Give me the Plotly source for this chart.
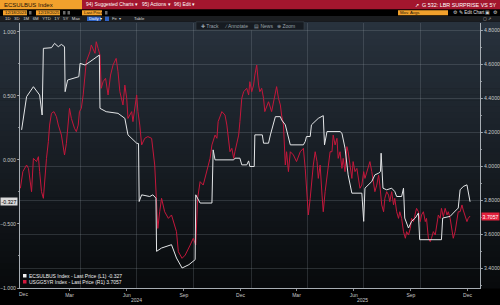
import plotly.graph_objects as go

# ---------------- data ----------------
ECSU_DATES = [
    "2023-12-29", "2023-12-31", "2024-01-06", "2024-01-17", "2024-01-27", "2024-01-31",
    "2024-02-02", "2024-02-15", "2024-02-20", "2024-02-26", "2024-03-02", "2024-03-07",
    "2024-03-08", "2024-03-12", "2024-03-21", "2024-03-30", "2024-04-01", "2024-04-09",
    "2024-04-17", "2024-05-02", "2024-05-03", "2024-05-13", "2024-06-01", "2024-06-12",
    "2024-06-17", "2024-07-01", "2024-07-04", "2024-07-05", "2024-07-09", "2024-07-22",
    "2024-07-27", "2024-08-01", "2024-08-02", "2024-08-10", "2024-08-26", "2024-09-03",
    "2024-09-12", "2024-09-23", "2024-10-03", "2024-10-04", "2024-10-11", "2024-10-30",
    "2024-11-01", "2024-11-04", "2024-12-04", "2024-12-06", "2024-12-14", "2024-12-17",
    "2024-12-25", "2024-12-28", "2024-12-30", "2025-01-06", "2025-01-07", "2025-01-19",
    "2025-01-21", "2025-01-29", "2025-02-01", "2025-02-06", "2025-02-09", "2025-02-17",
    "2025-02-19", "2025-02-25", "2025-03-02", "2025-03-05", "2025-03-26", "2025-03-29",
    "2025-03-31", "2025-04-06", "2025-04-08", "2025-04-14", "2025-04-19", "2025-04-27",
    "2025-04-29", "2025-05-03", "2025-05-24", "2025-05-27", "2025-06-01", "2025-06-06",
    "2025-06-12", "2025-06-28", "2025-07-01", "2025-07-03", "2025-07-09", "2025-07-14",
    "2025-07-19", "2025-07-25", "2025-07-28", "2025-07-29", "2025-08-01", "2025-08-07",
    "2025-08-15", "2025-08-20", "2025-08-23", "2025-08-31", "2025-09-03", "2025-09-05",
    "2025-09-11", "2025-09-16", "2025-09-22", "2025-09-27", "2025-09-29", "2025-11-03",
    "2025-11-05", "2025-11-17", "2025-11-22", "2025-11-30", "2025-12-03", "2025-12-08",
    "2025-12-14", "2025-12-19",
]
ECSU_VALUES = [
    0.234, 0.299, 0.493, 0.571, 0.506, 0.350,
    0.870, 0.875, 0.909, 0.883, 0.901, 0.883,
    0.532, 0.623, 0.636, 0.649, 0.753, 0.740,
    0.766, 0.818, 0.402, 0.376, 0.363, 0.324,
    0.195, 0.130, 0.127, -0.325, -0.273, -0.286,
    -0.273, -0.299, -0.714, -0.688, -0.662, -0.766,
    -0.844, -0.818, -0.779, -0.273, -0.337, -0.337,
    0.078, 0.000, 0.000, 0.013, 0.013, -0.039,
    -0.039, -0.008, -0.052, -0.052, 0.195, 0.195,
    0.130, 0.130, 0.195, 0.273, 0.337, 0.337,
    0.312, 0.273, 0.169, 0.117, 0.117, 0.143,
    0.182, 0.182, 0.273, 0.299, 0.324, 0.345,
    0.117, 0.221, 0.221, 0.208, 0.091, -0.117,
    -0.260, -0.260, -0.480, -0.221, -0.195, -0.169,
    -0.117, -0.104, -0.091, 0.052, -0.221, -0.234,
    -0.221, -0.247, -0.286, -0.286, -0.221, -0.454,
    -0.532, -0.480, -0.454, -0.415, -0.623, -0.623,
    -0.454, -0.441, -0.415, -0.376, -0.234, -0.208,
    -0.195, -0.327,
]

USGG_DATES = [
    "2023-12-27", "2023-12-31", "2024-01-06", "2024-01-09", "2024-01-14", "2024-01-17",
    "2024-01-22", "2024-01-25", "2024-01-27", "2024-01-30", "2024-02-02", "2024-02-04",
    "2024-02-07", "2024-02-10", "2024-02-12", "2024-02-15", "2024-02-19", "2024-02-23",
    "2024-02-26", "2024-03-02", "2024-03-07", "2024-03-10", "2024-03-15", "2024-03-18",
    "2024-03-23", "2024-03-26", "2024-03-29", "2024-03-31", "2024-04-03", "2024-04-06",
    "2024-04-09", "2024-04-11", "2024-04-17", "2024-04-19", "2024-04-25", "2024-04-27",
    "2024-04-30", "2024-05-03", "2024-05-05", "2024-05-08", "2024-05-12", "2024-05-16",
    "2024-05-20", "2024-05-24", "2024-05-29", "2024-06-01", "2024-06-04", "2024-06-09",
    "2024-06-12", "2024-06-15", "2024-06-17", "2024-06-23", "2024-06-25", "2024-07-01",
    "2024-07-03", "2024-07-06", "2024-07-09", "2024-07-14", "2024-07-19", "2024-07-25",
    "2024-07-30", "2024-08-02", "2024-08-04", "2024-08-07", "2024-08-10", "2024-08-15",
    "2024-08-21", "2024-08-26", "2024-08-31", "2024-09-03", "2024-09-06", "2024-09-12",
    "2024-09-17", "2024-09-20", "2024-09-25", "2024-09-30", "2024-10-04", "2024-10-07",
    "2024-10-11", "2024-10-16", "2024-10-22", "2024-10-27", "2024-10-30", "2024-11-04",
    "2024-11-07", "2024-11-09", "2024-11-15", "2024-11-20", "2024-11-23", "2024-11-26",
    "2024-11-28", "2024-12-01", "2024-12-04", "2024-12-06", "2024-12-12", "2024-12-14",
    "2024-12-17", "2024-12-20", "2024-12-25", "2024-12-28", "2024-12-30", "2025-01-02",
    "2025-01-05", "2025-01-07", "2025-01-10", "2025-01-13", "2025-01-15", "2025-01-18",
    "2025-01-21", "2025-01-23", "2025-01-29", "2025-02-03", "2025-02-09", "2025-02-11",
    "2025-02-14", "2025-02-17", "2025-02-19", "2025-02-22", "2025-02-25", "2025-02-27",
    "2025-03-02", "2025-03-05", "2025-03-10", "2025-03-15", "2025-03-21", "2025-03-26",
    "2025-03-29", "2025-03-31", "2025-04-03", "2025-04-06", "2025-04-08", "2025-04-11",
    "2025-04-14", "2025-04-17", "2025-04-19", "2025-04-22", "2025-04-25", "2025-04-27",
    "2025-04-30", "2025-05-03", "2025-05-08", "2025-05-11", "2025-05-13", "2025-05-16",
    "2025-05-19", "2025-05-21", "2025-05-24", "2025-05-27", "2025-05-29", "2025-06-01",
    "2025-06-04", "2025-06-06", "2025-06-09", "2025-06-12", "2025-06-14", "2025-06-17",
    "2025-06-20", "2025-06-23", "2025-06-25", "2025-06-28", "2025-07-01", "2025-07-03",
    "2025-07-06", "2025-07-09", "2025-07-11", "2025-07-14", "2025-07-17", "2025-07-19",
    "2025-07-22", "2025-07-25", "2025-07-27", "2025-07-30", "2025-08-02", "2025-08-04",
    "2025-08-07", "2025-08-10", "2025-08-12", "2025-08-15", "2025-08-18", "2025-08-20",
    "2025-08-23", "2025-08-26", "2025-08-28", "2025-08-31", "2025-09-03", "2025-09-06",
    "2025-09-08", "2025-09-11", "2025-09-14", "2025-09-16", "2025-09-19", "2025-09-22",
    "2025-09-24", "2025-09-27", "2025-09-30", "2025-10-02", "2025-10-05", "2025-10-08",
    "2025-10-10", "2025-10-13", "2025-10-16", "2025-10-18", "2025-10-21", "2025-10-24",
    "2025-10-26", "2025-10-29", "2025-11-01", "2025-11-03", "2025-11-06", "2025-11-09",
    "2025-11-12", "2025-11-14", "2025-11-17", "2025-11-20", "2025-11-22", "2025-11-25",
    "2025-11-28", "2025-11-30", "2025-12-03", "2025-12-06", "2025-12-08", "2025-12-11",
    "2025-12-14", "2025-12-16", "2025-12-19",
]
USGG_VALUES = [
    3.869, 3.967, 4.006, 3.986, 3.849, 4.045,
    4.026, 4.055, 3.967, 3.849, 3.810, 3.908,
    4.045, 4.143, 4.241, 4.310, 4.320, 4.290,
    4.241, 4.182, 4.065, 4.133, 4.339, 4.280,
    4.222, 4.202, 4.241, 4.320, 4.339, 4.418,
    4.535, 4.614, 4.673, 4.712, 4.663, 4.731,
    4.692, 4.653, 4.457, 4.496, 4.516, 4.418,
    4.535, 4.594, 4.633, 4.555, 4.437, 4.359,
    4.476, 4.398, 4.280, 4.320, 4.261, 4.418,
    4.320, 4.241, 4.124, 4.163, 4.173, 4.163,
    4.006, 3.810, 3.633, 3.731, 3.810, 3.731,
    3.692, 3.712, 3.653, 3.614, 3.496, 3.457,
    3.476, 3.496, 3.535, 3.575, 3.535, 3.810,
    3.908, 3.888, 3.967, 4.045, 4.124, 4.182,
    4.163, 4.261, 4.320, 4.300, 4.241, 4.163,
    4.084, 4.104, 4.045, 4.084, 4.182, 4.261,
    4.398, 4.437, 4.457, 4.418, 4.496, 4.437,
    4.476, 4.535, 4.594, 4.476, 4.437, 4.457,
    4.398, 4.320, 4.378, 4.320, 4.418, 4.467,
    4.398, 4.359, 4.300, 4.241, 4.006, 4.084,
    3.967, 4.084, 4.065, 4.026, 4.084, 4.104,
    3.986, 3.849, 3.712, 3.810, 3.908, 4.006,
    4.084, 4.026, 3.927, 4.006, 3.829, 3.731,
    3.849, 3.927, 4.084, 4.084, 4.182, 4.124,
    4.163, 4.045, 4.084, 3.986, 4.045, 3.967,
    4.114, 4.084, 4.006, 3.927, 4.026, 3.967,
    3.986, 3.927, 3.869, 3.888, 3.967, 3.927,
    3.967, 4.006, 4.026, 3.967, 3.908, 3.849,
    3.888, 3.947, 3.888, 3.771, 3.731, 3.810,
    3.849, 3.829, 3.790, 3.849, 3.771, 3.810,
    3.731, 3.692, 3.731, 3.692, 3.614, 3.575,
    3.614, 3.594, 3.633, 3.692, 3.673, 3.712,
    3.751, 3.731, 3.673, 3.712, 3.731, 3.673,
    3.692, 3.575, 3.555, 3.575, 3.614, 3.594,
    3.653, 3.712, 3.692, 3.751, 3.702, 3.751,
    3.712, 3.731, 3.692, 3.633, 3.575, 3.614,
    3.673, 3.731, 3.731, 3.771, 3.741, 3.712,
    3.673, 3.692, 3.7057,
]

LEFT_TICKS = [-1.0, -0.5, 0.0, 0.5, 1.0]
RIGHT_TICKS = [3.4, 3.6, 3.8, 4.0, 4.2, 4.4, 4.6, 4.8]
MONTH_TICKS = ["2024-03-15", "2024-06-15", "2024-09-15", "2024-12-15",
               "2025-03-15", "2025-06-15", "2025-09-15", "2025-12-15"]
MONTH_LABELS = ["Mar", "Jun", "Sep", "Dec", "Mar", "Jun", "Sep", "Dec"]
QUARTER_LINES = ["2024-04-01", "2024-07-01", "2024-10-01", "2025-01-01",
                 "2025-04-01", "2025-07-01", "2025-10-01"]
YEAR_LABELS = ["2024", "2025"]
YEAR_CENTERS = ["2024-07-01", "2025-06-29"]
X_RANGE = ["2023-12-26 10:00", "2026-01-04"]
LEFT_RANGE = [-1.0, 1.068]
RIGHT_RANGE = [3.2824, 4.8412]

LEFT_NAME = "ECSULBUS Index - Last Price (L1)"
RIGHT_NAME = "USGG5YR Index - Last Price (R1)"

# ---------------- layout geometry ----------------
W, H = 500, 305
PL, PR, PT, PB = 20, 480, 23, 288
FONT = "Liberation Sans, Arial, sans-serif"
GRID = "rgba(150,160,172,0.32)"
AXC = "#a7adb3"
TXT = "#c9c9c9"


def fx(p):
    return (p - PL) / (PR - PL)


def fy(p):
    return (PB - p) / (PB - PT)


shapes = []
annotations = []


def rect(x0, y0, x1, y1, fill, line=None, lw=0, layer="below"):
    shapes.append(dict(type="rect", xref="paper", yref="paper",
                       x0=fx(x0), x1=fx(x1), y0=fy(y1), y1=fy(y0),
                       fillcolor=fill, layer=layer,
                       line=dict(color=line or fill, width=lw)))


def text(x, y, s, size=5.2, color=TXT, anchor="left", bg=None, pad=0):
    annotations.append(dict(xref="paper", yref="paper", x=fx(x), y=fy(y),
                            text=s, showarrow=False, xanchor=anchor,
                            yanchor="middle", bgcolor=bg, borderpad=pad,
                            font=dict(family=FONT, size=size, color=color)))


# chart background gradient (styling only)
top_c = (40, 50, 61)
bot_c = (8, 10, 12)
y_start, y_end = 21.5, PB
n = 44
for i in range(n):
    t = i / (n - 1)
    c = tuple(int(round(top_c[k] + (bot_c[k] - top_c[k]) * t)) for k in range(3))
    ya = y_start + (y_end - y_start) * i / n
    yb = y_start + (y_end - y_start) * (i + 1) / n + 0.6
    rect(0, ya, W, yb, "rgb(%d,%d,%d)" % c)

# header row 1
rect(0, 0, 82, 9.5, "#f2a12c")
rect(82, 0, W, 9.5, "#a3162e")
text(2.5, 4.8, "ECSULBUS Index", 6.0, "#1c1208")
text(85, 4.8, "94) Suggested Charts \u25be", 4.9, "#ffffff")
text(141, 4.8, "95) Actions \u25be", 4.9, "#ffffff")
text(173, 4.8, "96) Edit \u25be", 4.9, "#ffffff")
text(497, 4.8, "\u2197  G 532: LBR SURPRISE VS 5Y", 5.4, "#ffffff", anchor="right")

# header row 2
rect(0, 9.5, W, 16, "#000000")
rect(3, 10.3, 27, 15.3, "#f2a12c")
text(4, 12.8, "12/18/2023", 4.3, "#1c1208")
rect(29, 11, 31.5, 14.5, "#6a6a6a")
rect(36, 10.3, 60, 15.3, "#f2a12c")
text(37, 12.8, "12/19/2025", 4.3, "#1c1208")
rect(63, 11, 65.5, 14.5, "#6a6a6a")
rect(67.5, 11, 70, 14.5, "#6a6a6a")
rect(82, 10.3, 102, 15.3, "#f2a12c")
text(83, 12.8, "Last Price", 4.3, "#1c1208")
rect(105, 11, 107.5, 14.5, "#6a6a6a")
rect(398, 10.3, 448, 15.3, "#f2a12c")
text(399, 12.8, "Mov. Avgs", 4.3, "#1c1208")
text(452, 12.8, "\u2699", 4.5, "#d0d0d0")
text(458, 12.8, "\u270e Edit Chart", 4.5, "#e0e0e0")
text(484, 12.8, "\u25a3", 4.5, "#d0d0d0")
text(492, 12.8, "\u2699", 4.5, "#d0d0d0")

# header row 3
rect(0, 16, W, 21.5, "#1b1d20")
text(4, 18.8, "1D   3D   1M   6M   YTD   1Y   5Y   Max", 4.3, "#d8d8d8")
rect(87, 16.6, 101, 21, "#2f63c4")
text(88, 18.8, "Daily \u25be", 4.3, "#ffffff")
rect(105, 16.6, 109, 21, "#2f63c4")
text(111, 18.8, "Fe  \u25be", 4.3, "#cfcfcf")
text(133, 18.8, "Table", 4.3, "#d8d8d8")
text(492, 18.8, "\u25a2 \u2197", 4.3, "#cfcfcf", anchor="right")

# chart toolbar
rect(196, 21.8, 304, 30, "#161b21", line="#3b434c", lw=0.6, layer="above")
text(200, 26, "\u271a Track", 5, "#9aa3ab")
text(223, 26, "\u2215 Annotate", 5, "#9aa3ab")
text(253, 26, "\u25a4 News", 5, "#9aa3ab")
text(276, 26, "\u2295 Zoom", 5, "#9aa3ab")

# legend (squares + text built from data)
rect(23, 274, 26.5, 277.5, "#f0f0f0", layer="above")
rect(23, 280, 26.5, 283.5, "#d2193f", layer="above")
text(28, 275.8, "%s %.3f" % (LEFT_NAME, ECSU_VALUES[-1]), 5.0, "#f0f0f0")
text(28, 281.8, "%s %.4f" % (RIGHT_NAME, USGG_VALUES[-1]), 5.0, "#f0f0f0")

# last value boxes on the axes
annotations.append(dict(xref="paper", yref="y2", x=fx(0.3), y=ECSU_VALUES[-1],
                        text="%.3f" % ECSU_VALUES[-1], showarrow=False,
                        xanchor="left", yanchor="middle", bgcolor="#d9d9d9",
                        borderpad=0.6, font=dict(family=FONT, size=5.2, color="#000000")))
annotations.append(dict(xref="paper", yref="y", x=fx(481), y=USGG_VALUES[-1],
                        text="%.4f" % USGG_VALUES[-1], showarrow=False,
                        xanchor="left", yanchor="middle", bgcolor="#e3203d",
                        borderpad=0.6, font=dict(family=FONT, size=5.2, color="#ffffff")))

# first (partial) month label at the left edge and year labels
text(23, 293.5, "Dec", 5.0, TXT, anchor="center")
for lab, cx in zip(YEAR_LABELS, YEAR_CENTERS):
    annotations.append(dict(xref="x", yref="paper", x=cx, y=fy(299.5), text=lab,
                            showarrow=False, xanchor="center", yanchor="middle",
                            font=dict(family=FONT, size=5.0, color=TXT)))

# ---------------- figure ----------------
fig = go.Figure()
fig.add_trace(go.Scatter(x=USGG_DATES, y=USGG_VALUES, mode="lines", name=RIGHT_NAME,
                         line=dict(color="#c4173b", width=1), yaxis="y",
                         showlegend=False, hoverinfo="skip"))
fig.add_trace(go.Scatter(x=ECSU_DATES, y=ECSU_VALUES, mode="lines", name=LEFT_NAME,
                         line=dict(color="#e4e6e8", width=1), yaxis="y2",
                         showlegend=False, hoverinfo="skip"))

fig.update_layout(
    template="none",
    width=W, height=H, autosize=False,
    margin=dict(l=PL, r=W - PR, t=PT, b=H - PB, pad=0, autoexpand=False),
    paper_bgcolor="#000000", plot_bgcolor="rgba(0,0,0,0)",
    font=dict(family=FONT, size=5.2, color=TXT),
    showlegend=False,
    xaxis=dict(type="date", range=X_RANGE, tickmode="array", tickvals=MONTH_TICKS,
               ticktext=MONTH_LABELS, showgrid=False, zeroline=False, automargin=False,
               ticks="outside", ticklen=2, tickwidth=0.8, tickcolor=AXC,
               showline=True, linecolor=AXC, linewidth=1,
               tickfont=dict(family=FONT, size=5.0, color=TXT),
               minor=dict(tickmode="array", tickvals=QUARTER_LINES, showgrid=True,
                          gridcolor=GRID, gridwidth=0.7, ticks="")),
    yaxis=dict(range=RIGHT_RANGE, side="right", tickmode="array", tickvals=RIGHT_TICKS,
               tickformat=".4f", showgrid=True, gridcolor=GRID, gridwidth=0.7,
               zeroline=False, automargin=False, ticks="outside", ticklen=2, tickwidth=0.8,
               tickcolor=AXC, showline=True, linecolor=AXC, linewidth=1,
               tickfont=dict(family=FONT, size=5.2, color=TXT),
               minor=dict(dtick=0.1, tick0=3.4, ticks="outside", ticklen=1.2,
                          tickcolor=AXC, showgrid=False)),
    yaxis2=dict(range=LEFT_RANGE, side="left", overlaying="y", tickmode="array",
                tickvals=LEFT_TICKS, tickformat=".3f", showgrid=False, zeroline=False,
                automargin=False, ticks="outside", ticklen=2, tickwidth=0.8, tickcolor=AXC,
                showline=True, linecolor=AXC, linewidth=1,
                tickfont=dict(family=FONT, size=5.2, color=TXT),
                minor=dict(dtick=0.25, tick0=0, ticks="outside", ticklen=1.2,
                           tickcolor=AXC, showgrid=False)),
    shapes=shapes,
    annotations=annotations,
)

fig.write_html("out.html", config={"displayModeBar": False, "staticPlot": True})
